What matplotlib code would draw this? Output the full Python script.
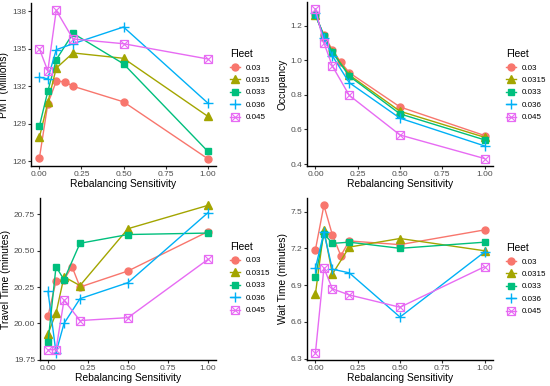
import matplotlib
matplotlib.use("Agg")
import matplotlib.pyplot as plt
from matplotlib.lines import Line2D
from matplotlib.legend_handler import HandlerTuple

plt.rcParams["font.family"] = ["Liberation Sans", "DejaVu Sans"]

fleets = ["0.03", "0.0315", "0.033", "0.036", "0.045"]
colors = ["#F8766D", "#A3A500", "#00BF7D", "#00B0F6", "#E76BF3"]

x_red = [0.0, 0.05, 0.1, 0.15, 0.2, 0.5, 1.0]
x_other = [0.0, 0.05, 0.1, 0.2, 0.5, 1.0]

pmt = {
    "0.03":   [126.24, 130.6, 132.4, 132.37, 132.0, 130.75, 126.2],
    "0.0315": [127.9, 130.7, 133.45, 134.67, 134.24, 129.6],
    "0.033":  [128.8, 131.6, 134.13, 136.24, 133.8, 126.8],
    "0.036":  [132.72, 132.6, 134.93, 135.41, 136.75, 130.67],
    "0.045":  [134.99, 133.23, 138.08, 135.79, 135.41, 134.19],
}
occupancy = {
    "0.03":   [1.26, 1.145, 1.06, 0.988, 0.928, 0.73, 0.565],
    "0.0315": [1.26, 1.14, 1.05, 0.915, 0.705, 0.555],
    "0.033":  [1.262, 1.14, 1.045, 0.908, 0.69, 0.54],
    "0.036":  [1.27, 1.13, 1.025, 0.87, 0.665, 0.505],
    "0.045":  [1.293, 1.10, 0.966, 0.797, 0.568, 0.432],
}
travel = {
    "0.03":   [20.05, 20.29, 20.30, 20.39, 20.25, 20.36, 20.63],
    "0.0315": [19.93, 20.07, 20.32, 20.26, 20.65, 20.81],
    "0.033":  [19.87, 20.39, 20.30, 20.55, 20.61, 20.62],
    "0.036":  [20.22, 19.80, 20.00, 20.17, 20.28, 20.76],
    "0.045":  [19.82, 19.82, 20.16, 20.02, 20.04, 20.44],
}
wait = {
    "0.03":   [7.19, 7.55, 7.31, 7.14, 7.26, 7.23, 7.35],
    "0.0315": [6.83, 7.35, 6.99, 7.21, 7.28, 7.18],
    "0.033":  [6.97, 7.32, 7.24, 7.25, 7.20, 7.25],
    "0.036":  [7.04, 7.33, 7.03, 7.00, 6.64, 7.17],
    "0.045":  [6.35, 7.04, 6.87, 6.82, 6.72, 7.05],
}

panels = [
    (pmt, "PMT (Millions)", [126, 129, 132, 135, 138], "{:.0f}"),
    (occupancy, "Occupancy", [0.4, 0.6, 0.8, 1.0, 1.2], "{:.1f}"),
    (travel, "Travel Time (minutes)", [19.75, 20.0, 20.25, 20.5, 20.75], "{:.2f}"),
    (wait, "Wait Time (minutes)", [6.3, 6.6, 6.9, 7.2, 7.5], "{:.1f}"),
]
xticks = [0.0, 0.25, 0.5, 0.75, 1.0]

W, H = 550, 386
fig = plt.figure(figsize=(W / 100, H / 100), dpi=100)

# axes rectangles in pixel coordinates: left, top, right, bottom
rects = [(31, 3, 216, 166), (307, 2, 493, 166), (40, 198, 216, 360), (307, 198, 493, 360)]
legend_pos = [(226, 45), (502, 45), (226, 238), (502, 239)]

styles = [
    dict(marker="o", ms=5),
    dict(marker="^", ms=5.5),
    dict(marker="s", ms=5),
    dict(marker="+", ms=7.5, mew=1.0),
    None,
]

tick_color = "#4D4D4D"

for (data, ylabel, yt, fmt), (l, t, r, b), (lx, ly) in zip(panels, rects, legend_pos):
    ax = fig.add_axes([l / W, 1 - b / H, (r - l) / W, (b - t) / H])
    handles = []
    for i, f in enumerate(fleets):
        xs = x_red if len(data[f]) == 7 else x_other
        c = colors[i]
        if styles[i] is not None:
            ax.plot(xs, data[f], color=c, lw=1.0, **styles[i])
            handles.append(Line2D([], [], color=c, lw=1.0, **styles[i]))
        else:
            ax.plot(xs, data[f], color=c, lw=1.0, marker="s", ms=5.5,
                    mfc="none", mew=0.9)
            ax.plot(xs, data[f], color=c, lw=0, marker="x", ms=5.5, mew=0.8)
            h1 = Line2D([], [], color=c, lw=1.0, marker="s", ms=5.5, mfc="none", mew=0.9)
            h2 = Line2D([], [], color=c, lw=0, marker="x", ms=5.5, mew=0.8)
            handles.append((h1, h2))
    ax.set_xticks(xticks)
    ax.set_xticklabels(["0.00", "0.25", "0.50", "0.75", "1.00"])
    ax.set_yticks(yt)
    ax.set_yticklabels([fmt.format(v) for v in yt])
    ax.set_xlim(-0.05, 1.05)
    ax.margins(y=0.05)
    for s in ["top", "right"]:
        ax.spines[s].set_visible(False)
    for s in ["left", "bottom"]:
        ax.spines[s].set_linewidth(1.0)
        ax.spines[s].set_color("black")
    ax.tick_params(axis="both", labelsize=6, colors="#333333", length=2.5,
                   width=0.8, pad=1.0)
    ax.tick_params(axis="both", labelcolor=tick_color)
    ax.set_xlabel("Rebalancing Sensitivity", fontsize=7.4, labelpad=1)
    ax.set_ylabel(ylabel, fontsize=7.4, labelpad=2)
    leg = ax.legend(handles, fleets, title="Fleet", loc="upper left",
                    bbox_to_anchor=(lx / W, 1 - ly / H),
                    bbox_transform=fig.transFigure, frameon=False,
                    fontsize=5.8, title_fontsize=7.4, handlelength=1.2,
                    labelspacing=0.6, handletextpad=0.7, borderpad=0,
                    handler_map={tuple: HandlerTuple(ndivide=1, pad=0)})
    leg._legend_box.align = "left"

fig.savefig("out.png", dpi=100)
